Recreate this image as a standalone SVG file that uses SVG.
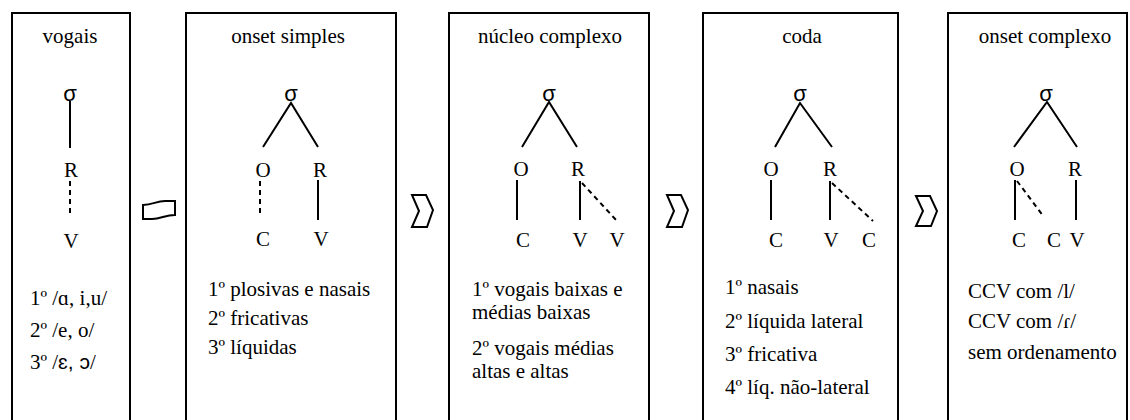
<svg xmlns="http://www.w3.org/2000/svg" width="1130" height="420" viewBox="0 0 1130 420">
<style>
.box{fill:none;stroke:#000;stroke-width:2}
.t{font-family:"Liberation Serif","Times New Roman",serif;font-size:21px;fill:#000}
.c{text-anchor:middle}
.sg{font-family:"Liberation Sans",Arial,sans-serif;font-size:22px;text-anchor:middle;fill:#000}
.ss{font-family:"Liberation Sans",Arial,sans-serif}
.l{stroke:#000;stroke-width:2;fill:none}
.d{stroke:#000;stroke-width:2;stroke-dasharray:5 4;fill:none}
.sym{fill:#fff;stroke:#000;stroke-width:2;stroke-linejoin:miter}
</style>
<rect width="1130" height="420" fill="#fff"/>

<g id="vogais">
<rect class="box" x="12" y="13" width="118" height="420"/>
<text class="t c" x="70" y="43">vogais</text>
<text class="sg" x="70" y="101">σ</text>
<line class="l" x1="70" y1="101" x2="70" y2="148"/>
<text class="t c" x="71" y="177">R</text>
<line class="d" x1="70" y1="181" x2="70" y2="214"/>
<text class="t c" x="71" y="248">V</text>
<text class="t" x="30" y="305">1º /ɑ, i,u/</text>
<text class="t" x="30" y="337">2º /e, o/</text>
<text class="t" x="30" y="369">3º /<tspan class="ss">ɛ, ɔ</tspan>/</text>
</g>

<g id="onset-simples">
<rect class="box" x="186" y="13" width="210" height="420"/>
<text class="t c" x="288" y="43">onset simples</text>
<text class="sg" x="291" y="101">σ</text>
<polyline class="l" points="263,147 291,103 318,147"/>
<text class="t c" x="263" y="177">O</text>
<text class="t c" x="320" y="177">R</text>
<line class="d" x1="260" y1="181" x2="260" y2="214"/>
<line class="l" x1="318" y1="180" x2="318" y2="220"/>
<text class="t c" x="263" y="246">C</text>
<text class="t c" x="321" y="246">V</text>
<text class="t" x="208" y="296">1º plosivas e nasais</text>
<text class="t" x="208" y="325">2º fricativas</text>
<text class="t" x="208" y="354">3º líquidas</text>
</g>

<g id="nucleo-complexo">
<rect class="box" x="449" y="13" width="200" height="420"/>
<text class="t c" x="550" y="43">núcleo complexo</text>
<text class="sg" x="549" y="101">σ</text>
<polyline class="l" points="522,147 549,102 577,147"/>
<text class="t c" x="521" y="176">O</text>
<text class="t c" x="578" y="176">R</text>
<line class="l" x1="517" y1="180" x2="517" y2="220"/>
<line class="l" x1="580" y1="181" x2="580" y2="220"/>
<line class="d" x1="582" y1="183" x2="617" y2="221"/>
<text class="t c" x="523" y="247">C</text>
<text class="t c" x="580" y="247">V</text>
<text class="t c" x="617" y="247">V</text>
<text class="t" x="472" y="296">1º vogais baixas e</text>
<text class="t" x="472" y="319">médias baixas</text>
<text class="t" x="472" y="355">2º vogais médias</text>
<text class="t" x="472" y="378">altas e altas</text>
</g>

<g id="coda">
<rect class="box" x="703" y="13" width="195" height="420"/>
<text class="t c" x="802" y="43">coda</text>
<text class="sg" x="800" y="101">σ</text>
<polyline class="l" points="775,147 800,103 832,147"/>
<text class="t c" x="771" y="176">O</text>
<text class="t c" x="830" y="176">R</text>
<line class="l" x1="771" y1="180" x2="771" y2="220"/>
<line class="l" x1="830" y1="181" x2="830" y2="220"/>
<line class="d" x1="832" y1="183" x2="873" y2="221"/>
<text class="t c" x="776" y="247">C</text>
<text class="t c" x="831" y="247">V</text>
<text class="t c" x="869" y="247">C</text>
<text class="t" x="725" y="294">1º nasais</text>
<text class="t" x="725" y="328">2º líquida lateral</text>
<text class="t" x="725" y="361">3º fricativa</text>
<text class="t" x="725" y="394">4º líq. não-lateral</text>
</g>

<g id="onset-complexo">
<rect class="box" x="948" y="13" width="179" height="420"/>
<text class="t c" x="1045" y="43">onset complexo</text>
<text class="sg" x="1046" y="101">σ</text>
<polyline class="l" points="1014,147 1047,102 1077,147"/>
<text class="t c" x="1017" y="176">O</text>
<text class="t c" x="1075" y="176">R</text>
<line class="l" x1="1015" y1="180" x2="1015" y2="220"/>
<line class="l" x1="1076" y1="180" x2="1076" y2="220"/>
<line class="d" x1="1017" y1="181" x2="1044" y2="217"/>
<text class="t c" x="1019" y="247">C</text>
<text class="t c" x="1054" y="247">C</text>
<text class="t c" x="1077" y="247">V</text>
<text class="t" x="968" y="298">CCV com /l/</text>
<text class="t" x="968" y="328">CCV com /ɾ/</text>
<text class="t" x="968" y="359">sem ordenamento</text>
</g>

<g id="connectors">
<path class="sym" d="M143,205 C153,205 156,201 165,201 L175,201 L175,215 C165,215 161,219 152,219 L143,219 Z"/>
<path class="sym" d="M412,195 L426,195 L433,210 L427,227 L412,227 L419,211 Z"/>
<path class="sym" d="M667,195 L681,195 L688,210 L682,227 L667,227 L674,211 Z"/>
<path class="sym" d="M916,196 L930,196 L937,211 L931,226 L916,226 L923,211 Z"/>
</g>
</svg>
